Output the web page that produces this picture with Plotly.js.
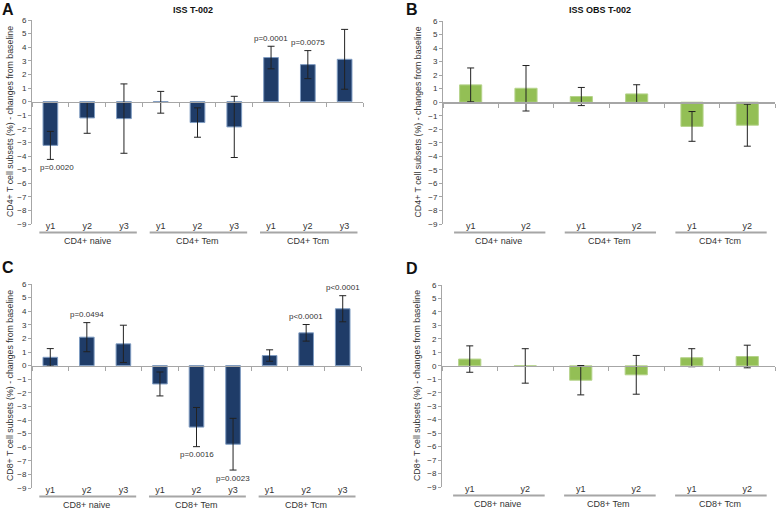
<!DOCTYPE html>
<html>
<head>
<meta charset="utf-8">
<script src="https://cdn.plot.ly/plotly-3.0.1.min.js"></script>
<style>
html,body{margin:0;padding:0;background:#fff;}
#chart{width:778px;height:512px;}
</style>
</head>
<body>
<div id="chart"></div>
<script>
// ---------- data ----------
const groupsCD4 = ['CD4+ naive', 'CD4+ Tem', 'CD4+ Tcm'];
const groupsCD8 = ['CD8+ naive', 'CD8+ Tem', 'CD8+ Tcm'];
const yearsISS = ['y1', 'y2', 'y3'];
const yearsOBS = ['y1', 'y2'];

const titleA = 'ISS T-002';
const titleB = 'ISS OBS T-002';
const yTitleCD4 = 'CD4+ T cell subsets (%) - changes from baseline';
const yTitleCD8 = 'CD8+ T cell subsets (%) - changes from baseline';

const valuesA = [-3.22, -1.20, -1.25, -0.05, -1.54, -1.86, 3.24, 2.72, 3.11];
const errorsA = [1.03, 1.13, 2.55, 0.80, 1.08, 2.25, 0.83, 1.03, 2.20];
const pvalsA  = ['p=0.0020', '', '', '', '', '', 'p=0.0001', 'p=0.0075', ''];

const valuesB = [1.28, 1.03, 0.42, 0.61, -1.79, -1.70];
const errorsB = [1.25, 1.68, 0.67, 0.68, 1.10, 1.55];

const valuesC = [0.61, 2.09, 1.60, -1.35, -4.52, -5.78, 0.74, 2.41, 4.18];
const errorsC = [0.64, 1.07, 1.37, 0.88, 1.44, 1.90, 0.42, 0.61, 0.96];
const pvalsC  = ['', 'p=0.0494', '', '', 'p=0.0016', 'p=0.0023', '', 'p<0.0001', 'p<0.0001'];

const valuesD = [0.50, -0.01, -1.07, -0.67, 0.60, 0.69];
const errorsD = [0.98, 1.28, 1.09, 1.44, 0.67, 0.84];

const yTickMin = -9, yTickMax = 6;

// ---------- layout helpers ----------
const W = 778, H = 512;
const FONT = 'Liberation Sans, Arial, sans-serif';
const navy = '#1f3c68';
const green = '#93bf55';
const axisGray = '#a6a6a6';
const textCol = '#333333';

const panels = [
  {letter: 'A', title: titleA, groups: groupsCD4, years: yearsISS, values: valuesA, errors: errorsA, pvals: pvalsA, color: navy, ytitle: yTitleCD4,
   box: {l: 32, r: 363, t: 20, b: 224}, letterPos: [8, 9], titlePos: [193, 10], ytitleX: 10},
  {letter: 'B', title: titleB, groups: groupsCD4, years: yearsOBS, values: valuesB, errors: errorsB, pvals: null, color: green, ytitle: yTitleCD4,
   box: {l: 443, r: 775, t: 21, b: 224}, letterPos: [412, 9], titlePos: [600, 10], ytitleX: 417},
  {letter: 'C', title: '', groups: groupsCD8, years: yearsISS, values: valuesC, errors: errorsC, pvals: pvalsC, color: navy, ytitle: yTitleCD8,
   box: {l: 32, r: 361, t: 284, b: 488}, letterPos: [8, 267], titlePos: null, ytitleX: 10},
  {letter: 'D', title: '', groups: groupsCD8, years: yearsOBS, values: valuesD, errors: errorsD, pvals: null, color: green, ytitle: yTitleCD8,
   box: {l: 442, r: 775, t: 285, b: 487}, letterPos: [412, 268], titlePos: null, ytitleX: 417}
];

const px2x = v => v / W;
const px2y = v => 1 - v / H;

const traces = [];
const layout = {
  width: W, height: H,
  margin: {l: 0, r: 0, t: 0, b: 0},
  paper_bgcolor: '#ffffff', plot_bgcolor: 'rgba(0,0,0,0)',
  showlegend: false,
  font: {family: FONT, size: 9, color: textCol},
  annotations: [], shapes: []
};

function axId(n) { return n === 1 ? '' : String(n); }

panels.forEach((p, k) => {
  const nMain = 2 * k + 1, nLab = 2 * k + 2, nY = k + 1;
  const xMain = 'x' + axId(nMain), xLab = 'x' + axId(nLab), yId = 'y' + axId(nY);
  const n = p.values.length;
  const per = p.years.length;
  const xs = p.values.map((_, i) => i);
  const xdom = [px2x(p.box.l), px2x(p.box.r)];
  const ydom = [px2y(p.box.b), px2y(p.box.t)];
  const zeroPos = ydom[0] + (0 - yTickMin) / (yTickMax - yTickMin) * (ydom[1] - ydom[0]);
  const xr = [-0.5, n - 0.5];

  traces.push({
    type: 'bar', x: xs, y: p.values, xaxis: xMain, yaxis: yId,
    marker: {color: p.color, line: {color: p.color === navy ? '#7f9cc2' : '#b5d38a', width: 1}},
    error_y: {type: 'data', array: p.errors, visible: true, color: '#222222', thickness: 1, width: 3.5},
    hoverinfo: 'skip', width: 0.4
  });
  // empty trace so the label axis gets its own subplot and is drawn
  traces.push({
    type: 'scatter', mode: 'markers', x: [], y: [], xaxis: xLab, yaxis: yId, hoverinfo: 'skip'
  });

  // main x axis: drawn as the zero line with ticks at category boundaries
  const boundaries = [];
  for (let i = 0; i <= n; i++) boundaries.push(i - 0.5);
  layout['xaxis' + axId(nMain)] = {
    domain: xdom, range: xr, anchor: 'free', position: zeroPos,
    showline: true, linecolor: axisGray, linewidth: 1.5,
    tickmode: 'array', tickvals: boundaries, ticks: 'outside', ticklen: 4, tickcolor: axisGray, tickwidth: 1,
    showticklabels: false, showgrid: false, zeroline: false, fixedrange: true
  };
  // label axis at the bottom with year labels
  const yearLabels = xs.map(i => p.years[i % per]);
  layout['xaxis' + axId(nLab)] = {
    domain: xdom, range: xr, overlaying: xMain, anchor: 'free', position: ydom[0] + 5 / H,
    showline: false, ticks: '', tickmode: 'array', tickvals: xs, ticktext: yearLabels,
    tickfont: {size: 9, color: textCol, family: FONT}, showgrid: false, zeroline: false, fixedrange: true
  };
  layout['yaxis' + axId(nY)] = {
    domain: ydom, range: [yTickMin, yTickMax], anchor: xMain,
    tickmode: 'linear', tick0: 0, dtick: 1,
    ticks: 'outside', ticklen: 3, tickcolor: axisGray, showline: true, linecolor: axisGray, linewidth: 1,
    showgrid: false, zeroline: false, tickfont: {size: 8, color: textCol, family: FONT},
    fixedrange: true
  };
  // y title as rotated annotation
  layout.annotations.push({
    text: p.ytitle, textangle: -90, xref: 'paper', yref: 'paper',
    x: px2x(p.ytitleX), y: (ydom[0] + ydom[1]) / 2, xanchor: 'center', yanchor: 'middle',
    showarrow: false, font: {size: 8.8, color: textCol, family: FONT}
  });
  // group underline + group label
  p.groups.forEach((g, gi) => {
    const x0 = gi * per - 0.5 + 0.2, x1 = (gi + 1) * per - 0.5 - 0.15;
    layout.shapes.push({
      type: 'line', xref: xMain, yref: 'paper', x0: x0, x1: x1,
      y0: ydom[0] - 8.5 / H, y1: ydom[0] - 8.5 / H, line: {color: axisGray, width: 2}
    });
    layout.annotations.push({
      text: g, xref: xMain, yref: 'paper', x: gi * per + (per - 1) / 2, y: ydom[0] - 17 / H,
      xanchor: 'center', yanchor: 'middle', showarrow: false, font: {size: 9, color: textCol, family: FONT}
    });
  });
  // p-values
  if (p.pvals) {
    p.pvals.forEach((t, i) => {
      if (!t) return;
      const v = p.values[i], e = p.errors[i];
      const below = v < 0;
      layout.annotations.push({
        text: t, xref: xMain, yref: yId, x: i, y: below ? v - e : v + e,
        yshift: below ? -8 : 8, xshift: i === 0 ? 7 : 0,
        xanchor: 'center', yanchor: 'middle', showarrow: false,
        font: {size: 8, color: textCol, family: FONT}
      });
    });
  }
  // panel letter
  layout.annotations.push({
    text: '<b>' + p.letter + '</b>', xref: 'paper', yref: 'paper',
    x: px2x(p.letterPos[0]), y: px2y(p.letterPos[1]), xanchor: 'center', yanchor: 'middle',
    showarrow: false, font: {size: 16, color: '#111111', family: FONT}
  });
  if (p.titlePos) {
    layout.annotations.push({
      text: '<b>' + p.title + '</b>', xref: 'paper', yref: 'paper',
      x: px2x(p.titlePos[0]), y: px2y(p.titlePos[1]), xanchor: 'center', yanchor: 'middle',
      showarrow: false, font: {size: 9, color: '#111111', family: FONT}
    });
  }
});

Plotly.newPlot('chart', traces, layout, {displayModeBar: false, staticPlot: true});
</script>
</body>
</html>
